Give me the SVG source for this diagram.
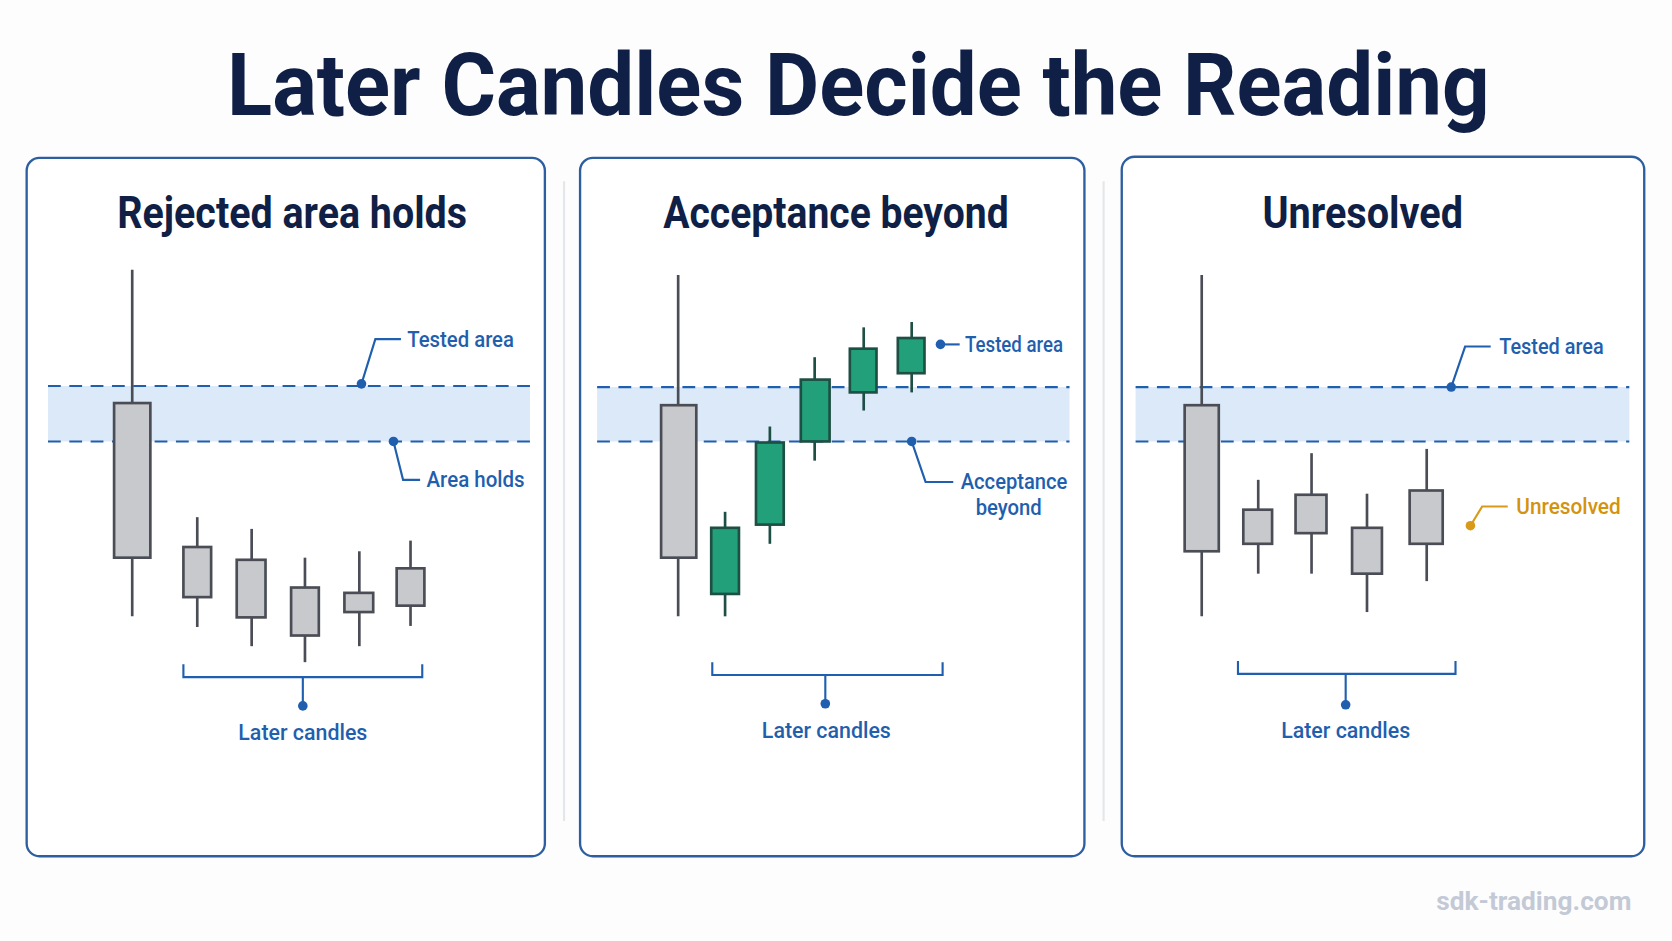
<svg xmlns="http://www.w3.org/2000/svg" width="1672" height="941" viewBox="0 0 1672 941">
<style>
.panel{fill:#fff;stroke:#2d5fa0;stroke-width:2.2}
.sep{stroke:#e3e6ea;stroke-width:2}
.band{fill:#dbe9f8}
.dash{stroke:#1f5fae;stroke-width:2;stroke-dasharray:12 8;fill:none}
.wick{stroke:#4a4d55;stroke-width:2.5}
.body{fill:#c8c9cc;stroke:#4a4d55;stroke-width:2.5}
.gwick{stroke:#1e4f44;stroke-width:2.5}
.gbody{fill:#22a07a;stroke:#1e4f44;stroke-width:2.5}
.lead{stroke:#1f5fae;stroke-width:2;fill:none}
.dot{fill:#1f5fae}
.lbl{font-family:Roboto,"Liberation Sans",sans-serif;font-weight:500;font-size:20px;fill:#1f5fae}
.ttl{font-family:Roboto,"Liberation Sans",sans-serif;font-weight:700;font-size:42px;fill:#0f1f45;text-anchor:middle}
</style>
<rect width="1672" height="941" fill="#fdfdfe"/>
<g transform="scale(1.0663)">
<text x="805" y="108" font-family="Roboto,'Liberation Sans',sans-serif" font-weight="700" font-size="82" fill="#0f1f45" text-anchor="middle" textLength="1184" lengthAdjust="spacingAndGlyphs">Later Candles Decide the Reading</text>
<line class="sep" x1="529" y1="170" x2="529" y2="770"/>
<line class="sep" x1="1035" y1="170" x2="1035" y2="770"/>

<g id="panel1">
<rect class="panel" x="25" y="148" width="486" height="655" rx="12"/>
<text class="ttl" x="274" y="214" textLength="328" lengthAdjust="spacingAndGlyphs">Rejected area holds</text>
<rect class="band" x="45" y="362" width="452" height="52"/>
<line class="dash" x1="45" y1="362" x2="497" y2="362"/>
<line class="dash" x1="45" y1="414" x2="497" y2="414"/>
<line class="wick" x1="124" y1="253" x2="124" y2="578"/><rect class="body" x="107" y="378" width="34" height="145"/>
<line class="wick" x1="185" y1="485" x2="185" y2="588"/><rect class="body" x="172" y="513" width="26" height="47"/>
<line class="wick" x1="236" y1="496" x2="236" y2="606"/><rect class="body" x="222" y="525" width="27" height="54"/>
<line class="wick" x1="286" y1="523" x2="286" y2="621"/><rect class="body" x="273" y="551" width="26" height="45"/>
<line class="wick" x1="337" y1="517" x2="337" y2="606"/><rect class="body" x="323" y="556" width="27" height="18"/>
<line class="wick" x1="385" y1="507" x2="385" y2="587"/><rect class="body" x="372" y="533" width="26" height="35"/>
<polyline class="lead" points="339,360 352,318 376,318"/><circle class="dot" cx="339" cy="360" r="4.5"/>
<text class="lbl" x="382" y="325" textLength="100" lengthAdjust="spacingAndGlyphs">Tested area</text>
<polyline class="lead" points="369,414 378,450 394,450"/><circle class="dot" cx="369" cy="414" r="4.5"/>
<text class="lbl" x="400" y="457" textLength="92" lengthAdjust="spacingAndGlyphs">Area holds</text>
<polyline class="lead" points="172,623 172,635 396,635 396,623"/><line class="lead" x1="284" y1="635" x2="284" y2="662"/><circle class="dot" cx="284" cy="662" r="4.5"/>
<text class="lbl" x="284" y="694" text-anchor="middle" textLength="121" lengthAdjust="spacingAndGlyphs">Later candles</text>
</g>

<g id="panel2">
<rect class="panel" x="544" y="148" width="473" height="655" rx="12"/>
<text class="ttl" x="784" y="214" textLength="324" lengthAdjust="spacingAndGlyphs">Acceptance beyond</text>
<rect class="band" x="560" y="363" width="443" height="51"/>
<line class="dash" x1="560" y1="363" x2="1003" y2="363"/>
<line class="dash" x1="560" y1="414" x2="1003" y2="414"/>
<line class="wick" x1="636" y1="258" x2="636" y2="578"/><rect class="body" x="620" y="380" width="33" height="143"/>
<line class="gwick" x1="680" y1="480" x2="680" y2="578"/><rect class="gbody" x="667" y="495" width="26" height="62"/>
<line class="gwick" x1="722" y1="400" x2="722" y2="510"/><rect class="gbody" x="709" y="415" width="26" height="77"/>
<line class="gwick" x1="764" y1="335" x2="764" y2="432"/><rect class="gbody" x="751" y="356" width="27" height="58"/>
<line class="gwick" x1="810" y1="307" x2="810" y2="385"/><rect class="gbody" x="797" y="327" width="25" height="41"/>
<line class="gwick" x1="855" y1="302" x2="855" y2="368"/><rect class="gbody" x="842" y="317" width="25" height="33"/>
<line class="lead" x1="882" y1="323" x2="900" y2="323"/><circle class="dot" cx="882" cy="323" r="4.5"/>
<text class="lbl" x="905" y="330" textLength="92" lengthAdjust="spacingAndGlyphs">Tested area</text>
<polyline class="lead" points="855,414 868,452 894,452"/><circle class="dot" cx="855" cy="414" r="4.5"/>
<text class="lbl" x="901" y="459" textLength="100" lengthAdjust="spacingAndGlyphs">Acceptance</text>
<text class="lbl" x="946" y="483" text-anchor="middle" textLength="62" lengthAdjust="spacingAndGlyphs">beyond</text>
<polyline class="lead" points="668,621 668,633 884,633 884,621"/><line class="lead" x1="774" y1="633" x2="774" y2="660"/><circle class="dot" cx="774" cy="660" r="4.5"/>
<text class="lbl" x="775" y="692" text-anchor="middle" textLength="121" lengthAdjust="spacingAndGlyphs">Later candles</text>
</g>

<g id="panel3">
<rect class="panel" x="1052" y="147" width="490" height="656" rx="12"/>
<text class="ttl" x="1278" y="214" textLength="188" lengthAdjust="spacingAndGlyphs">Unresolved</text>
<rect class="band" x="1065" y="363" width="463" height="51"/>
<line class="dash" x1="1065" y1="363" x2="1528" y2="363"/>
<line class="dash" x1="1065" y1="414" x2="1528" y2="414"/>
<line class="wick" x1="1127" y1="258" x2="1127" y2="578"/><rect class="body" x="1111" y="380" width="32" height="137"/>
<line class="wick" x1="1180" y1="450" x2="1180" y2="538"/><rect class="body" x="1166" y="478" width="27" height="32"/>
<line class="wick" x1="1230" y1="425" x2="1230" y2="538"/><rect class="body" x="1215" y="464" width="29" height="36"/>
<line class="wick" x1="1282" y1="463" x2="1282" y2="574"/><rect class="body" x="1268" y="495" width="28" height="43"/>
<line class="wick" x1="1338" y1="421" x2="1338" y2="545"/><rect class="body" x="1322" y="460" width="31" height="50"/>
<polyline class="lead" points="1361,363 1374,325 1398,325"/><circle class="dot" cx="1361" cy="363" r="4.5"/>
<text class="lbl" x="1406" y="332" textLength="98" lengthAdjust="spacingAndGlyphs">Tested area</text>
<polyline points="1379,493 1390,475 1414,475" fill="none" stroke="#d99a1a" stroke-width="2"/><circle cx="1379" cy="493" r="4.5" fill="#d99a1a"/>
<text class="lbl" x="1422" y="482" fill="#d4930d" style="fill:#d4930d" textLength="98" lengthAdjust="spacingAndGlyphs">Unresolved</text>
<polyline class="lead" points="1161,620 1161,632 1365,632 1365,620"/><line class="lead" x1="1262" y1="632" x2="1262" y2="661"/><circle class="dot" cx="1262" cy="661" r="4.5"/>
<text class="lbl" x="1262" y="692" text-anchor="middle" textLength="121" lengthAdjust="spacingAndGlyphs">Later candles</text>
</g>

<text x="1530" y="853" text-anchor="end" font-family="Roboto,'Liberation Sans',sans-serif" font-weight="700" font-size="24" fill="#c3cad6" textLength="183" lengthAdjust="spacingAndGlyphs">sdk-trading.com</text>
</g>
</svg>
